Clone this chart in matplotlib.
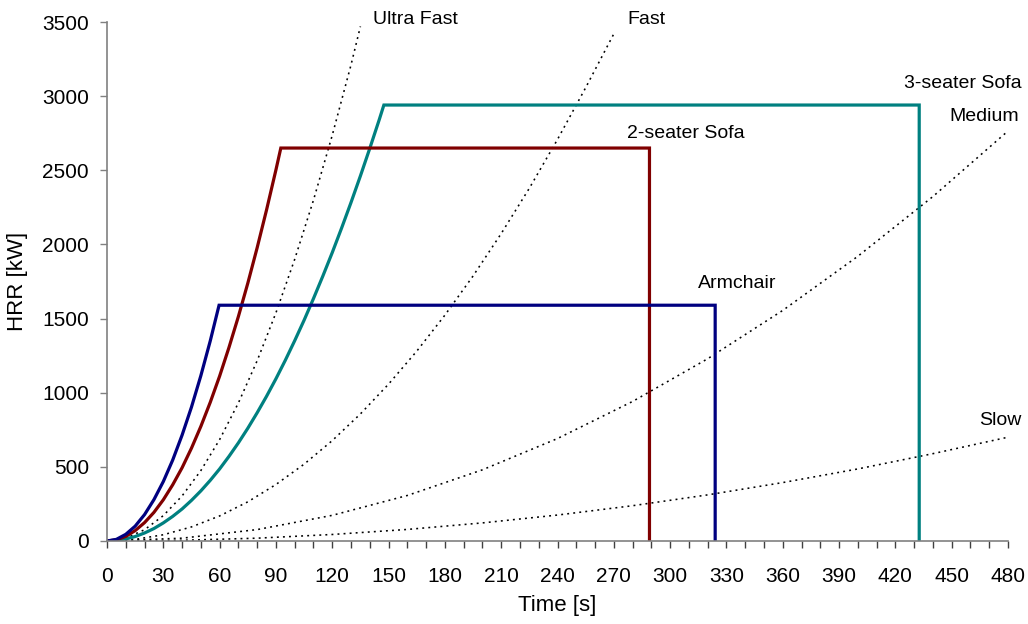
import matplotlib.pyplot as plt
from matplotlib.ticker import MultipleLocator

plt.rcParams['font.family'] = ['Liberation Sans', 'DejaVu Sans']

# t-squared design fires (dotted reference curves)
ultra_t = [0, 10, 20, 30, 40, 50, 60, 70, 80, 90, 100, 110, 120, 130, 135]
ultra_q = [0, 19, 76, 171, 304, 475, 684, 931, 1216, 1539, 1900, 2299, 2736, 3211, 3470]
fast_t = [0, 15, 30, 45, 60, 75, 90, 105, 120, 135, 150, 165, 180, 195, 210, 225, 240, 255, 270]
fast_q = [0, 11, 42, 95, 169, 264, 381, 518, 677, 857, 1058, 1280, 1523, 1787, 2073,
          2379, 2708, 3057, 3420]
medium_t = [0, 40, 80, 120, 160, 200, 240, 280, 320, 360, 400, 440, 480]
medium_q = [0, 19, 77, 173, 307, 480, 691, 941, 1229, 1555, 1920, 2323, 2765]
slow_t = [0, 40, 80, 120, 160, 200, 240, 280, 320, 360, 400, 440, 480]
slow_q = [0, 5, 19, 44, 78, 122, 175, 238, 311, 394, 486, 589, 700]

# furniture fires
arm_t = [0, 5, 10, 15, 20, 25, 30, 35, 40, 45, 50, 55, 59.7, 324, 324]
arm_q = [0, 11, 45, 100, 178, 279, 401, 546, 714, 903, 1115, 1349, 1590, 1590, 0]
sofa2_t = [0, 5, 10, 15, 20, 25, 30, 35, 40, 45, 50, 55, 60, 65, 70, 75, 80, 85, 90,
           92.6, 289, 289]
sofa2_q = [0, 8, 31, 70, 124, 193, 278, 379, 494, 626, 773, 935, 1112, 1306, 1514,
           1738, 1978, 2233, 2503, 2650, 2650, 0]
sofa3_t = [0, 5, 10, 15, 20, 25, 30, 35, 40, 45, 50, 55, 60, 65, 70, 75, 80, 85, 90,
           95, 100, 105, 110, 115, 120, 125, 130, 135, 140, 145, 147.5, 432.7, 432.7]
sofa3_q = [0, 3, 14, 30, 54, 84, 122, 166, 216, 274, 338, 409, 486, 571, 662, 760, 865,
           976, 1094, 1219, 1351, 1489, 1635, 1787, 1945, 2111, 2283, 2462, 2648, 2840,
           2940, 2940, 0]

fig = plt.figure(figsize=(10.28, 6.24), dpi=100)
ax = fig.add_axes([107 / 1028, 83 / 624, 901 / 1028, 519 / 624])

dot = dict(color='black', linewidth=1.15, linestyle=(0, (1.2, 2.6)))
for t, q in [(ultra_t, ultra_q), (fast_t, fast_q), (medium_t, medium_q), (slow_t, slow_q)]:
    ax.plot(t, q, **dot)

ax.plot(sofa3_t, sofa3_q, color='#008080', linewidth=2.3, solid_joinstyle='miter')
ax.plot(sofa2_t, sofa2_q, color='#800000', linewidth=2.3, solid_joinstyle='miter')
ax.plot(arm_t, arm_q, color='#000080', linewidth=2.3, solid_joinstyle='miter')

fs = 14
ax.text(141.5, 3518, 'Ultra Fast', fontsize=fs, va='center', ha='left')
ax.text(277, 3518, 'Fast', fontsize=fs, va='center', ha='left')
ax.text(487, 3088, '3-seater Sofa', fontsize=fs, va='center', ha='right')
ax.text(486, 2866, 'Medium', fontsize=fs, va='center', ha='right')
ax.text(277, 2745, '2-seater Sofa', fontsize=fs, va='center', ha='left')
ax.text(315, 1736, 'Armchair', fontsize=fs, va='center', ha='left')
ax.text(487, 814, 'Slow', fontsize=fs, va='center', ha='right')

ax.set_xlim(0, 480)
ax.set_ylim(0, 3500)
ax.xaxis.set_major_locator(MultipleLocator(30))
ax.xaxis.set_minor_locator(MultipleLocator(10))
ax.yaxis.set_major_locator(MultipleLocator(500))

for s in ['top', 'right']:
    ax.spines[s].set_visible(False)
for s in ['left', 'bottom']:
    ax.spines[s].set_color('#808080')
    ax.spines[s].set_linewidth(1.2)

ax.tick_params(axis='x', which='both', direction='out', length=5, width=1, color='#404040',
               labelsize=15, pad=14)
ax.tick_params(axis='y', which='major', direction='out', length=5, width=1, color='#808080',
               labelsize=15, pad=8)

ax.set_xlabel('Time [s]', fontsize=16, labelpad=6)
ax.set_ylabel('HRR [kW]', fontsize=16, labelpad=10)

fig.savefig('out.png', dpi=100)
